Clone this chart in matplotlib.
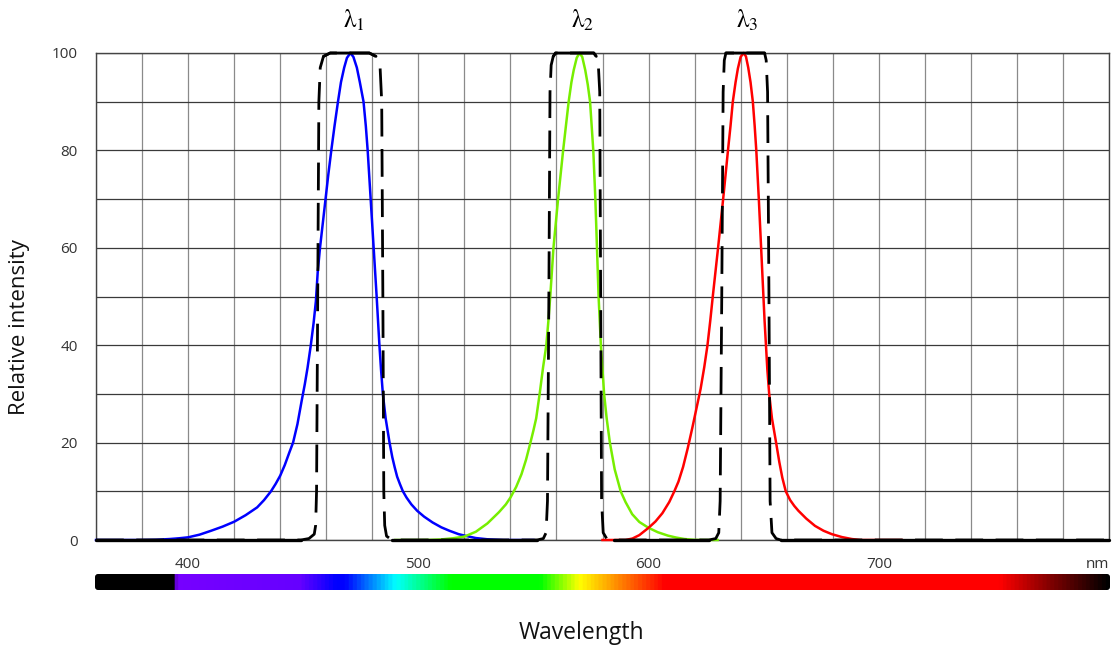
import matplotlib
matplotlib.use('Agg')

import matplotlib.pyplot as plt
import numpy as np
from matplotlib.colors import LinearSegmentedColormap
from matplotlib.patches import FancyBboxPatch
from matplotlib.transforms import IdentityTransform

# LED-Spektren (Wellenlaenge in nm, relative Intensitaet)
blue_nm = [360, 380, 386, 392, 396, 400, 405, 410, 415, 420, 425, 430, 433, 436, 438,
           440, 442, 444, 445.6, 447.5, 449.3, 450.7, 451.9, 453.3, 454.5, 455.5,
           456.3, 457.3, 458.5, 459.7, 460.9, 462.2, 463.6, 465.1, 466.4, 467.8, 469,
           470.5, 471.8, 473.3, 474.6, 476.2, 477.2, 478, 479.3, 480.6, 481.9, 482.5,
           483.1, 483.8, 484.6, 485.8, 487.5, 488.7, 489.7, 490.8, 492, 493.3, 494.9,
           497, 499.5, 502.5, 506.2, 510, 513.5, 517.5, 521, 525, 530, 537, 550]
blue_val = [0, 0, 0.05, 0.2, 0.35, 0.55, 1.1, 1.9, 2.75, 3.75, 5.1, 6.7, 8.2, 10, 11.5,
            13.2, 15.4, 18, 20, 23.8, 28.5, 32, 35.4, 40, 44.5, 49,
            55, 60, 65, 70, 75, 80, 85, 90, 94, 97, 99,
            100, 99.2, 97, 94, 90, 85, 80, 70, 60, 50, 45,
            40, 35, 30, 25, 20, 17, 15, 13, 11.5, 10, 8.7,
            7.3, 6, 4.8, 3.6, 2.6, 1.9, 1.2, 0.8, 0.4, 0.15, 0, 0]

green_nm = [490, 500, 505, 510, 515, 520, 525, 530, 535, 538, 540, 542.5, 544.8, 546.8,
            548.7, 550, 551.2, 552.7, 554.2, 555.6, 556.5, 557.3, 558.7, 560.7, 562.9,
            564.1, 565.3, 566.5, 567.5, 568.8, 570, 571.2, 572.5, 573.6, 574.6, 575.3,
            576, 576.9, 577.6, 578.3, 579.3, 580.7, 581.8, 583.2, 585.3, 587.9, 590,
            592.9, 596, 600, 604, 608.4, 612, 615.6, 620, 624, 630]
green_val = [0, 0, 0.03, 0.12, 0.35, 0.7, 1.7, 3.4, 5.7, 7.3, 8.7, 10.9, 13.5, 16.5,
             20, 22.5, 25, 30, 35.5, 40, 45, 50, 60, 70, 80,
             85, 90, 94, 96.5, 99, 100, 99.2, 96.5, 93.5, 90, 85,
             80, 70, 60, 50, 40, 30, 25, 20, 14.5, 10, 7.8,
             5.3, 3.7, 2.5, 1.6, 0.9, 0.5, 0.2, 0.03, 0, 0]

red_nm = [580, 590, 593, 596, 600, 603, 606, 609, 611.2, 613, 615, 617, 619,
          620.8, 622.6, 624.2, 625.6, 626.8, 627.9, 630.2, 632.4, 634.5, 635.6, 636.6,
          637.8, 638.8, 640, 641.3, 642.3, 643.3, 644.3, 645.3, 646.1, 646.8, 647.9,
          648.9, 649.9, 650.4, 651, 651.6, 652.4, 653.6, 655.4, 656.8, 658.1, 659.6,
          661.5, 663.3, 665.1, 668.5, 672.3, 676, 679.6, 684, 688.3, 692, 710]
red_val = [0, 0, 0.3, 1.0, 2.5, 3.8, 5.5, 7.8, 10, 12, 15, 18.8, 23,
           27, 31, 35.5, 40, 45, 50, 60, 70, 80, 85, 90,
           94, 96.8, 99.2, 100, 99.3, 97, 94, 90, 85, 80, 70,
           60, 50, 45, 40, 35, 30, 25, 20, 16, 12.8, 10,
           8.2, 7, 6, 4.4, 2.9, 1.9, 1.2, 0.6, 0.2, 0, 0]

# Filterkurven (gestrichelt)
filter1_nm = [449, 452.5, 454.8, 455.4, 455.8, 456.3, 456.8, 457.4, 458.8, 461.7,
              478.7, 481.6, 483.4, 484.1, 484.6, 485.0, 485.4, 486.2, 488.5]
filter1_val = [0, 0.3, 1.2, 3, 10, 50, 90, 97, 99.3, 100,
               100, 99.3, 97, 90, 50, 10, 3, 0.8, 0]
filter2_nm = [551.6, 554.3, 555.5, 556.1, 556.7, 557.2, 557.7, 558.6, 559.6,
              576.2, 577.3, 578.2, 578.8, 579.2, 579.6, 580.3, 581.8, 584.9]
filter2_val = [0, 0.3, 1.5, 8, 50, 92, 97.5, 99.3, 100,
               100, 99.3, 97.5, 92, 50, 8, 1.5, 0.3, 0]
filter3_nm = [626.2, 629.2, 630.5, 631.1, 631.8, 632.4, 632.9, 633.6,
              650.4, 651.1, 651.7, 652.3, 652.8, 653.6, 655.4, 657.4]
filter3_val = [0, 0.3, 1.5, 8, 50, 92, 98.5, 100,
               100, 98.5, 92, 50, 8, 1.5, 0.3, 0]

peaks_nm = [470.5, 570, 641.3]
peak_labels = [r'$\mathrm{\lambda}_1$', r'$\mathrm{\lambda}_2$', r'$\mathrm{\lambda}_3$']

y_ticks = [0, 20, 40, 60, 80, 100]
x_ticks = [400, 500, 600, 700, 800]
x_tick_labels = ['400', '500', '600', '700', 'nm']

# Farbbalken (sichtbares Spektrum)
spec_nm = [360, 394, 394.6, 448, 464, 468, 490, 514, 553, 570, 588, 607, 753, 775, 800]
spec_col = ['#000000', '#000000', '#7700ff', '#6600ff', '#0000ff', '#0000ff', '#00ffff',
            '#00ff00', '#00ff00', '#ffff00', '#ff8000', '#ff0000', '#ff0000', '#800000',
            '#000000']

plt.rcParams['font.family'] = ['Open Sans', 'DejaVu Sans']
plt.rcParams['mathtext.fontset'] = 'stix'

W, H = 1113, 648
fig = plt.figure(figsize=(W / 100, H / 100), dpi=100)
ax = fig.add_axes([96 / W, 108 / H, 1013 / W, 487 / H])

ax.plot(blue_nm, blue_val, color='#0000ff', lw=1.8, zorder=3, clip_on=False)
ax.plot(green_nm, green_val, color='#77ee00', lw=1.8, zorder=3, clip_on=False)
ax.plot(red_nm, red_val, color='#ff0000', lw=1.8, zorder=3, clip_on=False)

f_nm = np.array([360] + filter1_nm + filter2_nm + filter3_nm + [800], dtype=float)
f_val = np.array([0] + filter1_val + filter2_val + filter3_val + [0], dtype=float)
ax.plot(f_nm, f_val, color='black', lw=2.0, dashes=(10, 4.5), zorder=4, clip_on=False)
# flache Teile durchgezogen
ax.plot(f_nm, np.where(f_val == 0, f_val, np.nan), color='black', lw=2.4,
        solid_capstyle='round', zorder=4, clip_on=False)
ax.plot(f_nm, np.where(f_val >= 99, f_val, np.nan), color='black', lw=2.0,
        solid_capstyle='round', zorder=4, clip_on=False)

for x, lab in zip(peaks_nm, peak_labels):
    ax.text(x + 1.5, 106.5, lab, ha='center', va='center', fontsize=18, clip_on=False)

ax.set_xlim(360, 800)
ax.set_ylim(0, 100)
ax.set_xticks(x_ticks)
ax.set_xticklabels(x_tick_labels)
ax.get_xticklabels()[-1].set_horizontalalignment('right')
ax.set_xticks(np.arange(360, 801, 20), minor=True)
ax.set_yticks(y_ticks)
ax.set_yticks(np.arange(0, 101, 10), minor=True)
ax.xaxis.remove_overlapping_locs = False
ax.yaxis.remove_overlapping_locs = False
ax.grid(False, which='major')
ax.grid(True, which='minor', axis='x', color='#8a8a8a', lw=0.9)
ax.grid(True, which='minor', axis='y', color='#3a3a3a', lw=0.9)
ax.tick_params(which='both', length=0, labelsize=11, labelcolor='#333333')
ax.tick_params(axis='x', pad=12)
ax.tick_params(axis='y', pad=13)
for s in ['left', 'top', 'right', 'bottom']:
    ax.spines[s].set_color('#444444')
    ax.spines[s].set_linewidth(1.0)

# Spektralbalken
bar_ax = fig.add_axes([95 / W, (H - 590) / H, 1015 / W, 16 / H])
stops = [(n - 360) / 440 for n in spec_nm]
cmap = LinearSegmentedColormap.from_list('spec', list(zip(stops, spec_col)))
grad = np.linspace(0, 1, 2000).reshape(1, -1)
im = bar_ax.imshow(grad, aspect='auto', cmap=cmap, extent=[360, 800, 0, 1])
bar_ax.axis('off')
clip = FancyBboxPatch((95, H - 590), 1015, 16, boxstyle='round,pad=0,rounding_size=3',
                      transform=IdentityTransform(), facecolor='none', edgecolor='none')
fig.add_artist(clip)
im.set_clip_path(clip)

fig.text(20 / W, 1 - 327 / H, 'Relative intensity', rotation=90, ha='center', va='center',
         fontsize=16, color='#111111')
fig.text(581 / W, 1 - 633 / H, 'Wavelength', ha='center', va='center', fontsize=16.5,
         color='#111111')

fig.savefig('out.png', dpi=100)
